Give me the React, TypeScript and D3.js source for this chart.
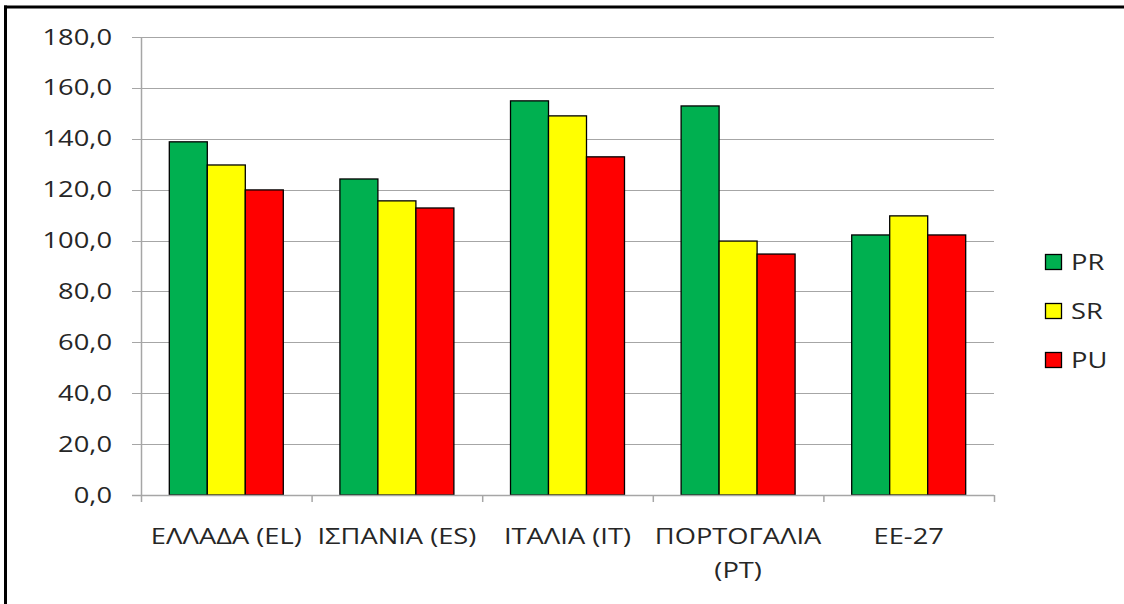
import * as d3 from "d3";

const categories = ["ΕΛΛΑΔΑ (EL)", "ΙΣΠΑΝΙΑ (ES)", "ΙΤΑΛΙΑ (IT)", "ΠΟΡΤΟΓΑΛΙΑ (PT)", "ΕΕ-27"];
const categoryLines = [["ΕΛΛΑΔΑ (EL)"], ["ΙΣΠΑΝΙΑ (ES)"], ["ΙΤΑΛΙΑ (IT)"], ["ΠΟΡΤΟΓΑΛΙΑ", "(PT)"], ["ΕΕ-27"]];
const seriesNames = ["PR", "SR", "PU"];
const seriesColors = ["#00B050", "#FFFF00", "#FF0000"];
const prValues = [138.8, 124.2, 154.9, 152.9, 102.2];
const srValues = [129.7, 115.6, 149.0, 99.8, 109.7];
const puValues = [119.9, 112.8, 132.9, 94.7, 102.2];
const yTicks = [0, 20, 40, 60, 80, 100, 120, 140, 160, 180];

const W = 1124;
const H = 604;
const FONT = "'Open Sans', sans-serif";
const FS = 21;
const SX = 1.3; // the reference text is horizontally stretched
const TEXT = "#262626";
const GRID = "#a6a6a6";

function Label({ x, y, anchor, children }: { x: number; y: number; anchor: string; children: any }) {
  return (
    <text
      transform={`translate(${x},${y}) scale(${SX},1)`}
      textAnchor={anchor}
      fontFamily={FONT}
      fontSize={FS}
      fill={TEXT}
    >
      {children}
    </text>
  );
}

export default function App() {
  const x0 = d3.scaleBand().domain(categories).range([141, 994]).paddingInner(0).paddingOuter(0);
  const x1 = d3
    .scaleBand()
    .domain(seriesNames)
    .range([0, x0.bandwidth()])
    .paddingOuter(0.745)
    .paddingInner(0);
  const y = d3.scaleLinear().domain([0, 180]).range([495, 37]);
  const values = [prValues, srValues, puValues];
  const fmt = (v: number) => d3.format(".1f")(v).replace(".", ",");

  return (
    <svg width={W} height={H} style={{ position: "absolute", left: 0, top: 0, background: "#fff" }}>
      {/* frame */}
      <line x1={5.5} x2={5.5} y1={5.5} y2={H} stroke="#000" strokeWidth={3} />
      <line x1={4} x2={W} y1={7} y2={7} stroke="#000" strokeWidth={3} />

      {/* grid + y axis */}
      {yTicks.map((t) => (
        <g key={t}>
          <line x1={132} x2={994} y1={Math.round(y(t)) + 0.5} y2={Math.round(y(t)) + 0.5} stroke={GRID} strokeWidth={1} />
          <Label x={112} y={y(t) + 7.5} anchor="end">
            {fmt(t)}
          </Label>
        </g>
      ))}
      <line x1={141.5} x2={141.5} y1={37} y2={495} stroke={GRID} strokeWidth={1.5} />

      {/* bars */}
      {categories.map((c, i) => (
        <g key={c} transform={`translate(${x0(c)},0)`}>
          {seriesNames.map((s, j) => (
            <rect
              key={s}
              x={x1(s)}
              y={y(values[j][i])}
              width={x1.bandwidth()}
              height={y(0) - y(values[j][i])}
              fill={seriesColors[j]}
              stroke="#000"
              strokeWidth={1.3}
            />
          ))}
        </g>
      ))}

      {/* x axis */}
      <line x1={132} x2={994} y1={495.5} y2={495.5} stroke={GRID} strokeWidth={1.5} />
      {[...categories.map((c) => x0(c) as number), 994].map((xv, i) => (
        <line key={i} x1={xv + 0.5} x2={xv + 0.5} y1={495} y2={502} stroke={GRID} strokeWidth={1.5} />
      ))}
      {categories.map((c, i) =>
        categoryLines[i].map((ln, k) => (
          <Label key={c + k} x={(x0(c) as number) + x0.bandwidth() / 2} y={544 + k * 34} anchor="middle">
            {ln}
          </Label>
        ))
      )}

      {/* legend */}
      {seriesNames.map((s, j) => (
        <g key={s} transform={`translate(1045,${254 + j * 49})`}>
          <rect x={0.5} y={0.5} width={16} height={15} fill={seriesColors[j]} stroke="#000" strokeWidth={1.3} />
          <Label x={26} y={15.5} anchor="start">
            {s}
          </Label>
        </g>
      ))}
    </svg>
  );
}
